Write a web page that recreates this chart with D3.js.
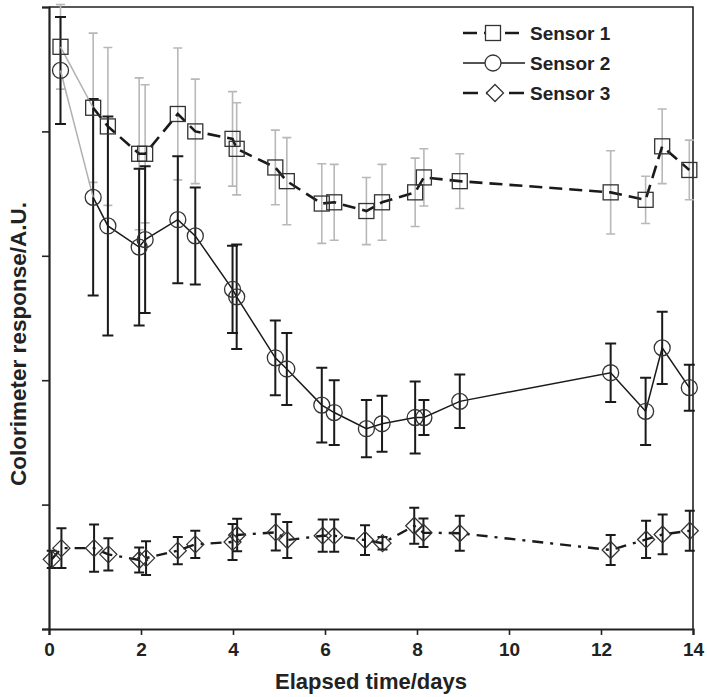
<!DOCTYPE html>
<html lang="en">
  <head>
    <meta charset="utf-8">
    <title>Colorimeter response</title>
    <script src="https://d3js.org/d3.v7.min.js"></script>
    <style>
      body { margin: 0; background: white; }
      text { font-family: "Liberation Sans", Arial, sans-serif; font-weight: bold; }
    </style>
  </head>
  <body>
    <script type="text/javascript">

      var w = 707;
      var h = 697;
      var margin = {top: 7, right: 14, bottom: 68, left: 49};
      var innerWidth = w - margin.left - margin.right;
      var innerHeight = h - margin.top - margin.bottom;

      // sampling times (days) for sensor 1 and 2
      var days = [0.25, 0.96, 1.28, 1.96, 2.09, 2.8, 3.18, 3.99, 4.08, 4.92, 5.17,
                  5.93, 6.2, 6.9, 7.24, 7.96, 8.15, 8.93, 12.21, 12.97, 13.33, 13.92];
      // sensor 3 has one extra early point
      var days3 = [0.06, 0.27, 0.98, 1.29, 1.96, 2.11, 2.8, 3.18, 3.99, 4.09, 4.93, 5.18,
                   5.95, 6.2, 6.87, 7.25, 7.94, 8.14, 8.93, 12.21, 12.98, 13.34, 13.93];

      var sensor1 = [4.68, 4.19, 4.04, 3.82, 3.82, 4.14, 4.00, 3.94, 3.86, 3.71, 3.60,
                     3.42, 3.43, 3.36, 3.43, 3.51, 3.63, 3.60, 3.51, 3.45, 3.88, 3.69];
      var sensor1Err = [0.34, 0.60, 0.635, 0.61, 0.555, 0.53, 0.42, 0.38, 0.37, 0.30, 0.35,
                        0.32, 0.305, 0.27, 0.305, 0.275, 0.23, 0.22, 0.335, 0.19, 0.30, 0.24];

      var sensor2 = [4.49, 3.47, 3.24, 3.07, 3.13, 3.29, 3.16, 2.73, 2.67, 2.18, 2.09,
                     1.80, 1.74, 1.61, 1.65, 1.70, 1.70, 1.83, 2.06, 1.75, 2.26, 1.94];
      var sensor2Err = [0.43, 0.79, 0.88, 0.63, 0.59, 0.51, 0.39, 0.35, 0.42, 0.30, 0.29,
                        0.30, 0.26, 0.23, 0.225, 0.29, 0.14, 0.215, 0.235, 0.27, 0.29, 0.185];

      var sensor3 = [0.56, 0.65, 0.65, 0.60, 0.555, 0.57, 0.63, 0.68, 0.70, 0.756, 0.777, 0.715,
                     0.75, 0.75, 0.715, 0.69, 0.83, 0.774, 0.77, 0.635, 0.72, 0.76, 0.79];
      var sensor3Err = [0.07, 0.16, 0.19, 0.13, 0.10, 0.135, 0.11, 0.11, 0.145, 0.13, 0.145, 0.145,
                        0.13, 0.13, 0.12, 0.05, 0.145, 0.115, 0.14, 0.12, 0.15, 0.16, 0.16];

      var xTicks = [0, 2, 4, 6, 8, 10, 12, 14];
      var yTicks = [0, 1, 2, 3, 4, 5];
      var seriesNames = ["Sensor 1", "Sensor 2", "Sensor 3"];

      function zip(xs, ys, es) {
        return xs.map(function(x, i) { return {x: x, y: ys[i], e: es[i]}; });
      }

      var series = [
        {name: seriesNames[0], data: zip(days, sensor1, sensor1Err), shape: "square",
         barColor: "#b8b8b8", barWidth: 1.6, cap: 4.5, dash: "13,7", legendDash: "14,7", lineWidth: 2.6},
        {name: seriesNames[1], data: zip(days, sensor2, sensor2Err), shape: "circle",
         barColor: "#1a1a1a", barWidth: 2, cap: 5.5, dash: null, legendDash: null, lineWidth: 1.5},
        {name: seriesNames[2], data: zip(days3, sensor3, sensor3Err), shape: "diamond",
         barColor: "#1a1a1a", barWidth: 2, cap: 5, dash: "11,7,3,7", legendDash: "15,8", lineWidth: 2.4}
      ];

      var svg = d3.select("body")
          .append("svg")
          .attr("width", w)
          .attr("height", h)
          .style("display", "block");

      svg.append("rect")
          .attr("width", w)
          .attr("height", h)
          .attr("fill", "white");

      var xScale = d3.scaleLinear().domain([0, 14]).range([0, innerWidth]);
      var yScale = d3.scaleLinear().domain([0, 5]).range([innerHeight, 0]);

      var g = svg.append("g")
          .attr("transform", `translate(${margin.left}, ${margin.top})`);

      // frame top and right
      g.append("path")
          .attr("d", `M0,0H${innerWidth}V${innerHeight}`)
          .attr("fill", "none")
          .attr("stroke", "#222")
          .attr("stroke-width", 1.6);

      // error bars
      series.forEach(function(s) {
        var bars = g.append("g")
            .attr("stroke", s.barColor)
            .attr("stroke-width", s.barWidth)
            .attr("fill", "none");
        bars.selectAll("path")
            .data(s.data)
            .enter().append("path")
            .attr("d", function(d) {
              var x = xScale(d.x), y1 = yScale(d.y + d.e), y2 = yScale(d.y - d.e);
              return `M${x - s.cap},${y1}H${x + s.cap}M${x},${y1}V${y2}M${x - s.cap},${y2}H${x + s.cap}`;
            });
      });

      var line = d3.line()
          .x(function(d) { return xScale(d.x) })
          .y(function(d) { return yScale(d.y) });

      // connecting lines (first segment of sensor 1 and 2 is grey)
      series.forEach(function(s, i) {
        var pts = s.data;
        if (i < 2) {
          g.append("path")
              .attr("d", line(pts.slice(0, 2)))
              .attr("fill", "none")
              .attr("stroke", "#b0b0b0")
              .attr("stroke-width", 1.5);
          pts = pts.slice(1);
        }
        g.append("path")
            .attr("d", line(pts))
            .attr("fill", "none")
            .attr("stroke", "#1a1a1a")
            .attr("stroke-width", s.lineWidth)
            .attr("stroke-dasharray", s.dash);
      });

      function marker(sel, shape) {
        if (shape === "square") {
          sel.append("rect").attr("x", -7.5).attr("y", -7.5).attr("width", 15).attr("height", 15);
        } else if (shape === "circle") {
          sel.append("circle").attr("r", 8);
        } else {
          sel.append("path").attr("d", "M0,-8.5L8.5,0L0,8.5L-8.5,0Z");
        }
      }

      series.forEach(function(s) {
        g.append("g").selectAll("g")
            .data(s.data)
            .enter().append("g")
            .attr("transform", function(d) { return `translate(${xScale(d.x)},${yScale(d.y)})` })
            .attr("fill", "none")
            .attr("stroke", "#333")
            .attr("stroke-width", 1.3)
            .each(function() { marker(d3.select(this), s.shape); });
      });

      // axes
      var xAxis = d3.axisBottom(xScale).tickValues(xTicks).tickSize(6).tickPadding(8);
      var yAxis = d3.axisLeft(yScale).tickValues(yTicks).tickSize(7);

      var gx = g.append("g")
          .attr("transform", `translate(0, ${innerHeight})`)
          .call(xAxis);
      var gy = g.append("g").call(yAxis);
      gy.selectAll(".tick text").remove();

      [gx, gy].forEach(function(ax) {
        ax.select(".domain").attr("stroke", "#222").attr("stroke-width", 2.2);
        ax.selectAll(".tick line").attr("stroke", "#222").attr("stroke-width", 1.6);
      });
      gx.attr("font-family", null);
      gx.selectAll(".tick text")
          .attr("fill", "#222")
          .attr("font-size", 19);

      svg.append("text")
          .attr("x", margin.left + innerWidth / 2)
          .attr("y", 689)
          .attr("text-anchor", "middle")
          .attr("fill", "#222")
          .attr("font-size", 22)
          .text("Elapsed time/days");

      svg.append("text")
          .attr("transform", `translate(26, ${margin.top + innerHeight / 2 + 26}) rotate(-90)`)
          .attr("text-anchor", "middle")
          .attr("fill", "#222")
          .attr("font-size", 22.5)
          .text("Colorimeter response/A.U.");

      // legend
      var legend = g.append("g")
          .attr("transform", `translate(${xScale(9.0)}, 26)`);
      series.forEach(function(s, i) {
        var row = legend.append("g").attr("transform", `translate(0, ${i * 30})`);
        row.append("line")
            .attr("x1", 0).attr("x2", 62)
            .attr("stroke", "#1a1a1a")
            .attr("stroke-width", s.lineWidth)
            .attr("stroke-dasharray", s.legendDash);
        var m = row.append("g")
            .attr("transform", `translate(${i === 2 ? 32 : 30}, 0)`)
            .attr("fill", "white")
            .attr("stroke", "#333")
            .attr("stroke-width", 1.3);
        marker(m, s.shape);
        row.append("text")
            .attr("x", 67)
            .attr("y", 7)
            .attr("fill", "#222")
            .attr("font-size", 19)
            .text(s.name);
      });

    </script>
  </body>
</html>
